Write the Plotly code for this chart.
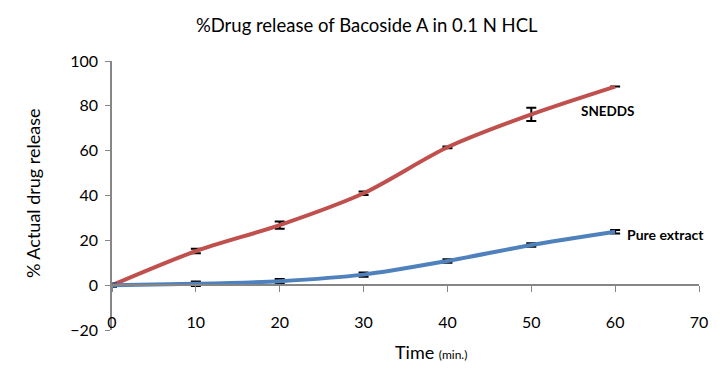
import plotly.graph_objects as go

time_min = [0, 10, 20, 30, 40, 50, 60]
snedds = [0, 15.2, 26.8, 41.0, 61.5, 76.2, 88.6]
snedds_err = [0.6, 1.0, 1.6, 0.8, 0.4, 3.0, None]
pure = [0, 0.6, 1.8, 4.7, 10.8, 17.9, 23.8]
pure_err = [0.6, 1.0, 1.0, 1.0, 0.8, 0.8, 0.8]

FONT = "Lato"
AXIS_GREY = "#868686"

fig = go.Figure()
fig.add_trace(go.Scatter(
    x=time_min, y=snedds, mode="lines",
    line=dict(color="#C0504D", width=4, shape="spline", smoothing=0.8),
    error_y=dict(type="data", array=snedds_err, visible=True, color="black", thickness=2, width=5),
    showlegend=False, name="SNEDDS"))
fig.add_trace(go.Scatter(
    x=time_min, y=pure, mode="lines",
    line=dict(color="#4F81BD", width=4, shape="spline", smoothing=0.8),
    error_y=dict(type="data", array=pure_err, visible=True, color="black", thickness=2, width=5),
    showlegend=False, name="Pure extract"))

fig.add_annotation(x=59.15, y=77.7, text="<b>SNEDDS</b>", showarrow=False,
                   font=dict(family=FONT, size=13.5, color="black"))
fig.add_annotation(x=61.2, y=22.5, text="<b>Pure extract</b>", showarrow=False, xanchor="left",
                   font=dict(family=FONT, size=14, color="black"))
fig.add_annotation(xref="paper", yref="paper", x=0.543, y=-0.082, yanchor="middle",
                   text="Time <span style='font-size:12px'>(min.)</span>", showarrow=False,
                   font=dict(family=FONT, size=18, color="black"))
fig.add_annotation(xref="paper", yref="paper", x=-0.1346, y=0.509, textangle=-90,
                   xanchor="center", yanchor="middle",
                   text="% Actual drug release", showarrow=False,
                   font=dict(family=FONT, size=18, color="black"))

fig.update_layout(
    width=716, height=371,
    margin=dict(l=104, r=25, t=53, b=49),
    plot_bgcolor="white", paper_bgcolor="white",
    font=dict(family=FONT, color="black"),
    title=dict(text="%Drug release of Bacoside A in 0.1 N HCL", x=0.501, xanchor="center",
               y=0.954, yanchor="middle", font=dict(family=FONT, size=18.5, color="black")),
    xaxis=dict(range=[0, 70], dtick=10, tick0=0, anchor="free", position=0.0706,
               showline=False, ticks="", showgrid=False, zeroline=False,
               tickfont=dict(family=FONT, size=16, color="black")),
    xaxis2=dict(range=[0, 70], dtick=10, tick0=0, overlaying="x", anchor="free", position=1/6,
                showline=True, linecolor=AXIS_GREY, linewidth=1.5, ticks="outside", ticklen=6,
                tickcolor=AXIS_GREY, showticklabels=False, showgrid=False, zeroline=False),
    yaxis=dict(range=[-20, 100], dtick=20, showline=True, linecolor=AXIS_GREY, linewidth=1.5,
               ticks="outside", ticklen=5, tickcolor=AXIS_GREY, showgrid=False, zeroline=False,
               ticklabelstandoff=4, automargin=False,
               tickfont=dict(family=FONT, size=16, color="black")),
)
# dummy trace to make xaxis2 render
fig.add_trace(go.Scatter(x=[None], y=[None], xaxis="x2", showlegend=False, hoverinfo="skip"))

fig.write_html("out.html")
